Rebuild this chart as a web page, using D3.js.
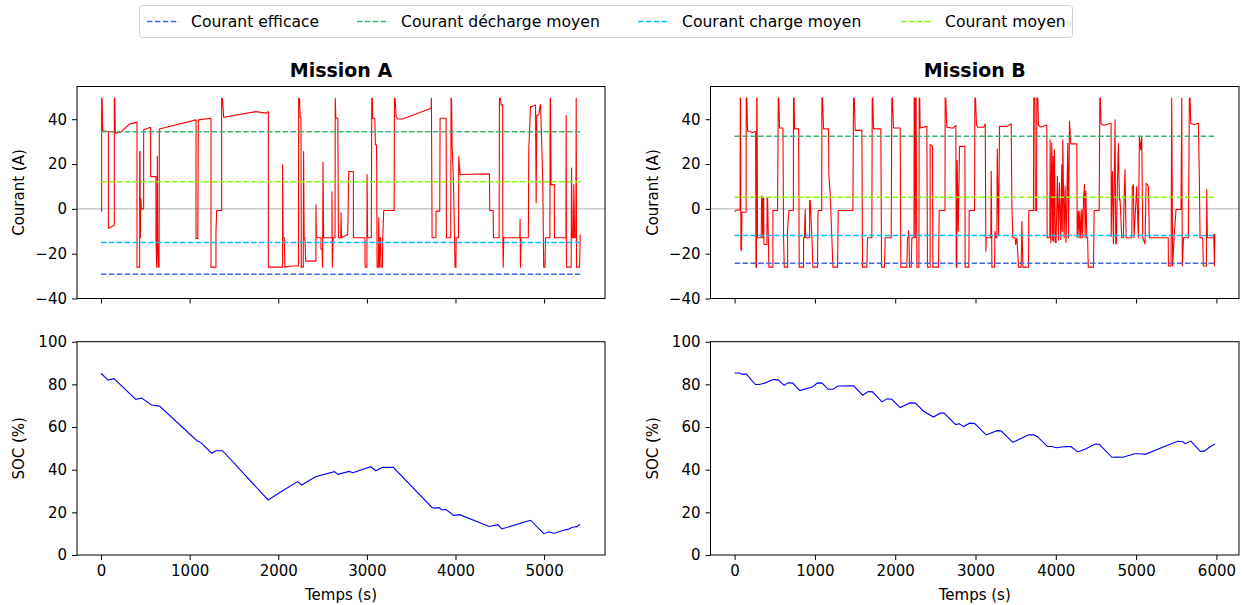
<!DOCTYPE html>
<html><head><meta charset="utf-8">
<script src="https://cdn.jsdelivr.net/npm/d3@7"></script>
<style>
body{margin:0;background:#fff}
svg{display:block}
text{font-family:"DejaVu Sans",sans-serif;fill:#000}
</style>
</head><body>
<svg id="c" width="1244" height="605"></svg>
<script>
// ---------------- DATA ----------------
const missions = ["Mission A", "Mission B"];
const statLabels = ["Courant efficace", "Courant décharge moyen", "Courant charge moyen", "Courant moyen"];
const statsA = [-29.2, 34.4, -15.0, 12.1];
const statsB = [-24.3, 32.4, -11.9, 5.2];
const endA = 5407, endB = 5980;
const xTicksA = [0, 1000, 2000, 3000, 4000, 5000];
const xTicksB = [0, 1000, 2000, 3000, 4000, 5000, 6000];
const yTicksCurrent = [-40, -20, 0, 20, 40];
const yTicksSoc = [0, 20, 40, 60, 80, 100];

// current profile, [time (s), current (A)]
const currentA = [
[0,-1],[7,-1],[7,49.3],[12,49.3],[19,34.8],[83,34.5],[83,-8.7],[150,-7.3],[150,49.3],[155,49.3],[162,33.8],[226,34.3],[320,37.8],[406,38.7],[406,-26],[436,-26],[436,25.6],[440,25.6],[444,-12.9],[447,4.6],[450,4.6],[455,0],[481,0],[481,35.3],[553,36.3],[560,36.3],[560,14.4],[620,14.4],[620,-12.9],[628,-26],[632,-26],[635,23.3],[640,-12.9],[650,-26],[655,-26],[658,35.6],[1072,39.7],[1072,-13.2],[1092,-13.2],[1098,39.7],[1241,40.4],[1241,-26],[1297,-26],[1297,-10.7],[1305,-0.7],[1361,-0.7],[1361,49.3],[1370,49.3],[1384,40.9],[1748,43.4],[1861,42.7],[1888,43.4],[1888,-26],[2049,-26],[2049,19.7],[2055,-12.9],[2068,-12.9],[2075,-26],[2143,-25.5],[2228,-25.5],[2230,49.3],[2240,49.3],[2248,40.9],[2256,40.9],[2260,-26],[2282,-26],[2286,25.6],[2292,-12.9],[2300,-12.9],[2310,-23.3],[2425,-23.3],[2425,1.9],[2430,-12.9],[2482,-12.9],[2482,-18],[2495,-18],[2500,-26],[2505,20.9],[2512,-12.9],[2606,-12.9],[2606,7.6],[2610,-26],[2620,-12.9],[2641,-12.9],[2643,49.3],[2650,40.4],[2672,40.4],[2679,-12.9],[2705,-12.9],[2709,-1.8],[2714,-12.9],[2784,-11.4],[2795,16.7],[2848,16.7],[2848,-12.9],[2978,-12.9],[2980,-26],[3000,-26],[3002,15.3],[3008,-12.9],[3050,-12.9],[3055,49.3],[3062,49.3],[3066,40.4],[3090,40.4],[3096,28.6],[3108,28.6],[3111,19.7],[3115,-26],[3130,-26],[3134,-4],[3141,-26],[3149,-12.9],[3155,-12.9],[3160,-26],[3175,-26],[3179,-12.9],[3190,-0.7],[3308,-0.7],[3311,49.3],[3318,49.3],[3330,41.2],[3345,40.1],[3405,40.1],[3725,44.9],[3728,49.3],[3736,-12.9],[3778,-12.9],[3781,-1],[3822,-1],[3826,40.4],[3894,40.4],[3898,-12.9],[3946,-12.9],[3950,49.3],[3955,49.3],[3962,28.6],[3970,20],[3977,12.3],[3995,-26],[4005,-26],[4007,-12.9],[4034,-12.9],[4037,23.4],[4052,15.3],[4383,15.6],[4387,-0.7],[4425,-0.7],[4428,-12.9],[4492,-12.9],[4496,49.3],[4508,49.3],[4515,46.4],[4532,46.4],[4534,-12.9],[4538,-26],[4545,-12.9],[4726,-12.9],[4729,-4.7],[4733,-26],[4740,-12.9],[4822,-12.9],[4827,26.4],[4846,45.6],[4860,45.6],[4903,46.4],[4910,2.7],[4918,41.9],[4940,41.9],[4955,46.4],[4960,46.4],[4985,12.3],[4995,-26],[5010,-26],[5015,-12.9],[5065,-12.9],[5068,49.3],[5072,49.3],[5079,10.8],[5115,10.8],[5117,-12.9],[5246,-12.9],[5249,41.6],[5252,-26],[5305,-26],[5309,18.2],[5318,-12.9],[5330,-12.9],[5335,10.8],[5345,-12.9],[5358,-12.9],[5362,49.3],[5366,-26],[5400,-26],[5407,-11.4]
];
const currentB = [
[0,-1],[15,-1],[20,-0.5],[68,-0.5],[71,49.5],[74,49.5],[79,-18.4],[86,-18.4],[91,-1.5],[143,-1.5],[145,49.5],[152,49.5],[162,34.6],[195,34.6],[215,34],[240,34.3],[262,34.5],[266,-26],[272,-26],[276,49.5],[280,49.5],[285,-12.9],[332,-12.9],[336,5.6],[345,5.6],[350,-12.9],[355,4.9],[362,4.9],[365,-15.9],[402,-15.9],[406,4.9],[411,4.9],[427,-26],[477,-26],[477,-0.7],[535,-0.7],[544,49.5],[550,49.5],[560,36.1],[602,36.1],[610,-12.9],[618,-26],[660,-26],[660,-8.8],[676,-0.7],[732,-0.7],[734,49.5],[740,49.5],[747,35.7],[797,35.7],[805,-26],[859,-26],[859,-12.9],[870,-12.9],[875,-5],[880,-0.3],[885,-12.9],[934,-12.9],[934,3.7],[942,3.7],[963,-12.9],[975,-26],[1033,-26],[1037,-5.5],[1040,-0.7],[1085,-0.7],[1087,49.5],[1095,49.5],[1108,35.7],[1170,35.7],[1174,15.3],[1191,6.4],[1211,-12.9],[1224,-26],[1282,-26],[1290,-0.7],[1473,-0.7],[1481,49.5],[1490,49.5],[1502,35],[1585,35],[1593,-26],[1647,-26],[1655,-12.9],[1709,-12.9],[1714,49.5],[1720,49.5],[1730,35.7],[1821,35.7],[1830,-26],[1867,-26],[1875,-12.9],[1950,-12.9],[1958,49.5],[1965,49.5],[1979,36.1],[2062,36.1],[2070,-26],[2145,-26],[2153,-12.9],[2163,-12.9],[2166,-9.8],[2172,-12.9],[2178,-26],[2200,-26],[2207,-12.9],[2234,-12.9],[2236,49.5],[2245,49.5],[2250,-12.9],[2255,49.5],[2260,49.5],[2270,-26],[2295,-26],[2299,49.5],[2305,49.5],[2311,36.1],[2394,36.8],[2402,-26],[2435,-26],[2435,28.7],[2464,27.9],[2469,-26],[2539,-26],[2548,-0.7],[2620,-0.7],[2622,49.5],[2630,49.5],[2643,36.4],[2720,36],[2755,37.3],[2760,-26],[2767,-26],[2771,21.7],[2785,-10],[2801,27.9],[2868,27.9],[2871,-26],[2917,-26],[2921,-0.7],[2988,-0.7],[2992,49.5],[3000,49.5],[3012,37.6],[3025,36.4],[3100,36.4],[3121,37.9],[3129,-18.9],[3133,-12.9],[3190,-12.9],[3196,16.8],[3204,-26],[3237,-26],[3242,-10],[3254,-12.9],[3266,-12.9],[3271,26.7],[3287,-11.4],[3299,36.8],[3390,36.8],[3444,37.9],[3453,1.2],[3465,-12.9],[3494,-12.9],[3500,-15.9],[3515,-12.9],[3536,-26],[3569,-26],[3577,-5.5],[3590,-26],[3660,-26],[3664,-0.7],[3722,-0.7],[3725,49.5],[3740,49.5],[3745,-0.7],[3760,-0.7],[3764,49.5],[3775,49.5],[3784,37.3],[3810,36.5],[3888,37.3],[3892,-12.9],[3925,-12.9],[3929,30.8],[3938,-15.2],[3950,29.5],[3960,-14],[3967,23.4],[3975,-14.6],[3983,26.4],[3995,-15],[4003,-15],[4020,14.5],[4033,-14],[4045,11.5],[4062,-13.6],[4074,19.7],[4080,-10],[4087,30.8],[4103,-13],[4116,10],[4128,-15],[4149,29.3],[4158,-12.9],[4170,39.1],[4187,29],[4262,29],[4266,-12.9],[4282,-1],[4290,-12.9],[4300,-1],[4310,-12.9],[4324,-0.3],[4332,-12.9],[4345,4.1],[4357,10.8],[4365,-12.9],[4374,8],[4386,-12.9],[4396,-12.9],[4404,-26],[4469,-26],[4477,-0.7],[4540,-0.7],[4548,49.5],[4555,49.5],[4563,37.9],[4600,37.3],[4688,38.2],[4690,-12.2],[4696,4.1],[4705,16.7],[4717,-15.6],[4738,39.7],[4746,-15.6],[4754,-15.6],[4767,11.4],[4779,29.3],[4792,4],[4800,4.1],[4821,-12.9],[4841,-12.9],[4850,4.1],[4862,17.5],[4875,-12.9],[4945,-12.9],[4953,10],[4966,10.8],[4974,-12.9],[5007,10],[5028,-12.9],[5041,32.3],[5057,26.4],[5070,32.3],[5082,-12.9],[5111,-15.6],[5124,11.4],[5140,10.8],[5153,10],[5165,-12.9],[5400,-12.9],[5402,-25.5],[5435,-25.5],[5443,49.5],[5455,-25.5],[5472,-13],[5497,-0.3],[5559,-0.3],[5568,49.5],[5575,-25.5],[5590,-12.9],[5651,-12.9],[5663,49.5],[5672,49.5],[5680,38.2],[5720,37.5],[5775,38.2],[5787,14.5],[5796,-12.9],[5829,-12.9],[5837,-25.5],[5875,-25.5],[5879,8.6],[5887,-12.9],[5962,-12.9],[5966,-11.5],[5975,-25.5],[5980,-11]
];
// state of charge, [time (s), SOC (%)]
const socA = [
[0,85.2],[80,82],[147,82.7],[392,73],[459,73.6],[570,70.3],[660,69.8],[1083,53.6],[1127,52.7],[1248,47.7],[1297,48.9],[1372,48.9],[1885,25.8],[2054,30.2],[2219,34.4],[2264,32.8],[2420,36.7],[2634,39.1],[2674,37.8],[2798,39.2],[2843,38.6],[3043,41.4],[3101,39.5],[3177,41.1],[3298,41.1],[3734,22.3],[3770,22],[3814,22.2],[3846,21.1],[3890,21.4],[3979,18.6],[4046,18.9],[4380,13.4],[4478,14.2],[4523,12.2],[4826,16.1],[4848,16.3],[4995,10],[5049,10.8],[5115,10.2],[5227,11.7],[5271,12],[5316,13],[5370,13.3],[5405,14.5]
];
const socB = [
[0,85.3],[64,85.3],[88,84.8],[147,84.8],[259,79.9],[308,79.9],[382,80.7],[480,82.3],[543,82.1],[617,79.5],[666,80.7],[724,80.6],[812,77.1],[969,78.8],[1033,80.7],[1091,80.6],[1165,77.7],[1228,77.7],[1287,79.2],[1483,79.3],[1595,74.9],[1664,76.6],[1718,76.5],[1835,71.8],[1899,73.2],[1958,73],[2060,69.1],[2183,71.3],[2251,71.2],[2354,67.4],[2476,64.7],[2560,66.5],[2608,66.5],[2755,61.1],[2794,61.6],[2853,60.2],[2927,61.8],[2990,61.6],[3132,56.3],[3269,58.3],[3318,58.2],[3465,52.8],[3661,56.4],[3724,56.3],[3768,55.6],[3896,50.9],[3954,50.9],[4003,50.3],[4126,50.9],[4189,50.8],[4273,48.3],[4370,49.7],[4419,50.6],[4493,52],[4541,51.9],[4698,45.8],[4762,45.9],[4835,45.8],[4982,47.5],[5056,47.5],[5114,47.2],[5398,51.6],[5520,53.3],[5584,53.1],[5609,52.2],[5682,53.4],[5800,48.6],[5849,48.7],[5913,50.5],[5980,52]
];

// ---------------- STYLE / LAYOUT ----------------
const statColors = ["#4169e1", "#3cb371", "#00bfff", "#7cfc00"];
const svg = d3.select("#c");
const cols = [{x0: 77, x1: 605}, {x0: 710.5, x1: 1239}];
const rowTop = {y0: 86.5, y1: 298.5}, rowBot = {y0: 341.7, y1: 555};
const fmt = d => d < 0 ? "\u2212" + Math.abs(d) : String(d);

const panels = [
  {title: missions[0], col: cols[0], xDom: [-271, 5687], xTicks: xTicksA, current: currentA, soc: socA, stats: statsA, end: endA},
  {title: missions[1], col: cols[1], xDom: [-300, 6281], xTicks: xTicksB, current: currentB, soc: socB, stats: statsB, end: endB}
];

function axes(g, x, y, xTicks, yTicks, showX, row, col) {
  const xa = g.append("g").attr("transform", `translate(0,${row.y1})`)
    .call(d3.axisBottom(x).tickValues(xTicks).tickSize(5).tickPadding(5).tickSizeOuter(0)
      .tickFormat(showX ? fmt : () => ""));
  const ya = g.append("g").attr("transform", `translate(${col.x0},0)`)
    .call(d3.axisLeft(y).tickValues(yTicks).tickSize(5).tickPadding(5).tickSizeOuter(0).tickFormat(fmt));
  [xa, ya].forEach(a => {
    a.select(".domain").remove();
    a.selectAll("line").attr("stroke", "#000").attr("stroke-width", 1);
    a.selectAll("text").style("font-size", "15px").style("font-family", '"DejaVu Sans", sans-serif').attr("fill", "#000");
  });
  g.append("rect").attr("x", col.x0).attr("y", row.y0)
    .attr("width", col.x1 - col.x0).attr("height", row.y1 - row.y0)
    .attr("fill", "none").attr("stroke", "#000").attr("stroke-width", 1);
}

panels.forEach(p => {
  const g = svg.append("g");
  const x = d3.scaleLinear().domain(p.xDom).range([p.col.x0, p.col.x1]);
  const yC = d3.scaleLinear().domain([-40, 54.6]).range([rowTop.y1, rowTop.y0]);
  const yS = d3.scaleLinear().domain([0, 100]).range([rowBot.y1, rowBot.y0]);

  // zero line
  g.append("line").attr("x1", p.col.x0).attr("x2", p.col.x1)
    .attr("y1", yC(0)).attr("y2", yC(0)).attr("stroke", "#b0b0b0").attr("stroke-width", 1);

  // current
  g.append("path").datum(p.current)
    .attr("d", d3.line().x(d => x(d[0])).y(d => yC(d[1])))
    .attr("fill", "none").attr("stroke", "red").attr("stroke-width", 1.1).attr("stroke-linejoin", "round");

  // stats lines
  p.stats.forEach((v, i) => {
    g.append("line").attr("x1", x(0)).attr("x2", x(p.end))
      .attr("y1", yC(v)).attr("y2", yC(v))
      .attr("stroke", statColors[i]).attr("stroke-width", 1.5).attr("stroke-dasharray", "5.5,2.4");
  });

  axes(g, x, yC, p.xTicks, yTicksCurrent, false, rowTop, p.col);

  // SOC
  g.append("path").datum(p.soc)
    .attr("d", d3.line().x(d => x(d[0])).y(d => yS(d[1])))
    .attr("fill", "none").attr("stroke", "blue").attr("stroke-width", 1.1);
  axes(g, x, yS, p.xTicks, yTicksSoc, true, rowBot, p.col);

  const cx = (p.col.x0 + p.col.x1) / 2;
  g.append("text").attr("x", cx).attr("y", 77).attr("text-anchor", "middle")
    .style("font-size", "19px").style("font-weight", "bold").text(p.title);
  g.append("text").attr("x", cx).attr("y", 600).attr("text-anchor", "middle")
    .style("font-size", "15px").text("Temps (s)");
  const lx = p.col.x0 - 53;
  g.append("text").attr("transform", `translate(${lx},${(rowTop.y0 + rowTop.y1) / 2}) rotate(-90)`)
    .attr("text-anchor", "middle").style("font-size", "15px").text("Courant (A)");
  g.append("text").attr("transform", `translate(${lx},${(rowBot.y0 + rowBot.y1) / 2}) rotate(-90)`)
    .attr("text-anchor", "middle").style("font-size", "15px").text("SOC (%)");
});

// legend
const lg = svg.append("g");
lg.append("rect").attr("x", 139.5).attr("y", 5.5).attr("width", 933).attr("height", 32).attr("rx", 3)
  .attr("fill", "#fff").attr("stroke", "#d0d0d0").attr("stroke-width", 1);
const legendTextX = [191, 401, 682, 945];
statLabels.forEach((s, i) => {
  const tx = legendTextX[i];
  lg.append("line").attr("x1", tx - 44).attr("x2", tx - 12).attr("y1", 21.5).attr("y2", 21.5)
    .attr("stroke", statColors[i]).attr("stroke-width", 1.5).attr("stroke-dasharray", "5.5,2.4");
  lg.append("text").attr("x", tx).attr("y", 27).style("font-size", "15.6px").text(s);
});
</script>
</body></html>
